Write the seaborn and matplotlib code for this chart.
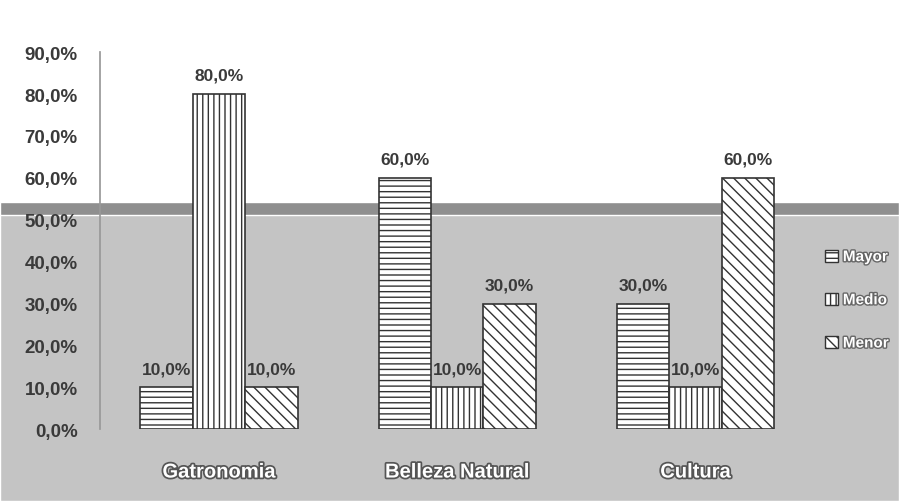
import pandas as pd
import seaborn as sns
import matplotlib.pyplot as plt
import matplotlib.patheffects as pe
from matplotlib.patches import Rectangle, Patch

categories = ["Gatronomia", "Belleza Natural", "Cultura"]
levels = ["Mayor", "Medio", "Menor"]
mayor = [10.0, 60.0, 30.0]
medio = [80.0, 10.0, 10.0]
menor = [10.0, 30.0, 60.0]
yticks = [0, 10, 20, 30, 40, 50, 60, 70, 80, 90]

df = pd.DataFrame({
    "cat": categories * 3,
    "nivel": [l for l in levels for _ in categories],
    "valor": mayor + medio + menor,
})

sns.set_theme(style="white")
plt.rcParams["font.family"] = ["Liberation Sans", "DejaVu Sans"]
plt.rcParams["hatch.color"] = "#222222"

fig = plt.figure(figsize=(8.99, 5.02), dpi=100)
fig.patch.set_facecolor("white")
# grey lower band of the scanned background
fig.patches.append(Rectangle((0, 0), 1, 0.585, transform=fig.transFigure,
                             facecolor="#c4c4c4", zorder=-10))
fig.patches.append(Rectangle((0, 0.57), 1, 0.025, transform=fig.transFigure,
                             facecolor="#8f8f8f", zorder=-9))

ax = fig.add_axes([0.111, 0.143, 0.795, 0.751])
ax.patch.set_alpha(0)

sns.barplot(data=df, x="cat", y="valor", hue="nivel", hue_order=levels,
            order=categories, width=0.66, gap=0, saturation=1,
            palette=["white"] * 3, edgecolor="#333333", linewidth=1.2,
            legend=False, ax=ax)

hatches = ["---", "|||", "\\\\\\"]
for cont, h in zip(ax.containers, hatches):
    for bar in cont:
        bar.set_hatch(h)
    ax.bar_label(cont, labels=[f"{v:.1f}%".replace(".", ",") for v in cont.datavalues],
                 padding=8, fontsize=12.5, fontweight="bold", color="#3a3a3a")

ax.set_ylim(0, 90)
ax.set_yticks(yticks)
ax.set_yticklabels([f"{t:.1f}%".replace(".", ",") for t in yticks],
                   fontsize=13.5, fontweight="bold", color="#3a3a3a")
ax.tick_params(axis="y", pad=16, length=0)
ax.tick_params(axis="x", pad=24, length=0)
for lab in ax.get_xticklabels():
    lab.set_fontsize(14.5)
    lab.set_fontweight("bold")
    lab.set_color("white")
    lab.set_path_effects([pe.withStroke(linewidth=2.5, foreground="#555555")])
ax.set_xlabel("")
ax.set_ylabel("")
for s in ["top", "right", "bottom"]:
    ax.spines[s].set_visible(False)
ax.spines["left"].set_color("#999999")

handles = [Patch(facecolor="white", edgecolor="#333333", hatch=h) for h in hatches]
leg = fig.legend(handles, levels, loc="center left", bbox_to_anchor=(0.918, 0.40),
                 frameon=False, labelspacing=1.9, handlelength=0.8, handleheight=0.8,
                 handletextpad=0.35, fontsize=11, borderaxespad=0, borderpad=0)
for t in leg.get_texts():
    t.set_color("white")
    t.set_fontweight("bold")
    t.set_path_effects([pe.withStroke(linewidth=2, foreground="#666666")])

fig.savefig("out.png", dpi=100)
